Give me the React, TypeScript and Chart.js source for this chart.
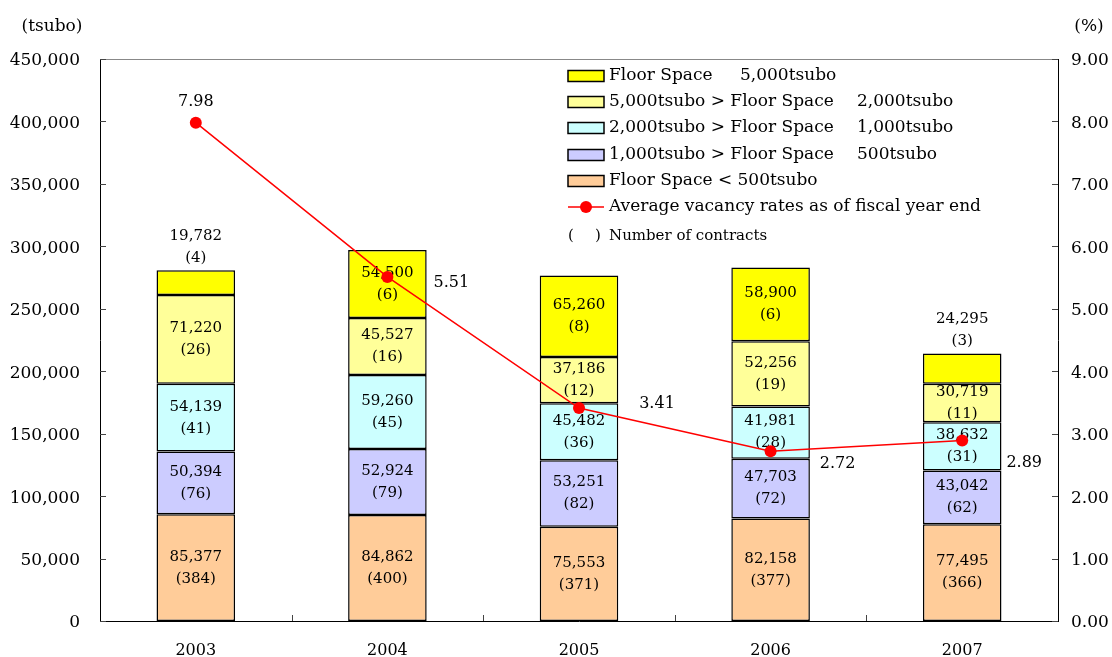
import { useEffect, useRef } from "react";
import { Chart, registerables } from "chart.js";

Chart.register(...registerables);

// Fiscal years on the category axis
const years = ["2003", "2004", "2005", "2006", "2007"];

// Contracted floor space (tsubo) by building size band, with number of contracts
const spaceUnder500 = [85377, 84862, 75553, 82158, 77495];
const contractsUnder500 = [384, 400, 371, 377, 366];
const space500to1000 = [50394, 52924, 53251, 47703, 43042];
const contracts500to1000 = [76, 79, 82, 72, 62];
const space1000to2000 = [54139, 59260, 45482, 41981, 38632];
const contracts1000to2000 = [41, 45, 36, 28, 31];
const space2000to5000 = [71220, 45527, 37186, 52256, 30719];
const contracts2000to5000 = [26, 16, 12, 19, 11];
const space5000plus = [19782, 54500, 65260, 58900, 24295];
const contracts5000plus = [4, 6, 8, 6, 3];

// Average vacancy rate (%) at fiscal year end
const vacancyRates = [7.98, 5.51, 3.41, 2.72, 2.89];

// Axis tick definitions
const leftAxisMax = 450000;
const leftAxisStep = 50000;
const rightAxisMax = 9;
const rightAxisStep = 1;

// Where each vacancy label sits relative to its point (px)
const vacancyLabelOffsets: [number, number][] = [
  [0, -21],
  [64, 6],
  [78, -4],
  [67, 13],
  [62, 22],
];

const FONT = "'DejaVu Serif', 'Liberation Serif', serif";

const bands = [
  { label: "Floor Space < 500tsubo", data: spaceUnder500, counts: contractsUnder500, color: "#FFCC99" },
  { label: "1,000tsubo > Floor Space ≧ 500tsubo", data: space500to1000, counts: contracts500to1000, color: "#CCCCFF" },
  { label: "2,000tsubo > Floor Space ≧ 1,000tsubo", data: space1000to2000, counts: contracts1000to2000, color: "#CCFFFF" },
  { label: "5,000tsubo > Floor Space ≧ 2,000tsubo", data: space2000to5000, counts: contracts2000to5000, color: "#FFFF99" },
  { label: "Floor Space ≧ 5,000tsubo", data: space5000plus, counts: contracts5000plus, color: "#FFFF00" },
];

const fmt = (n: number) => n.toLocaleString("en-US");

// Inward tick marks, frame top line, axis captions and the legend block
const decorPlugin = {
  id: "decor",
  beforeDatasetDraw(chart: any, args: any) {
    // bar value labels go under the vacancy line
    if (args.index !== bands.length) return;
    const ctx = chart.ctx;
    ctx.save();
    ctx.fillStyle = "#000";
    ctx.font = `15px ${FONT}`;
    ctx.textAlign = "center";
    ctx.textBaseline = "middle";
    bands.forEach((band, di) => {
      const meta = chart.getDatasetMeta(di);
      const isTop = di === bands.length - 1;
      meta.data.forEach((bar: any, i: number) => {
        const top = Math.min(bar.y, bar.base);
        const bottom = Math.max(bar.y, bar.base);
        const h = bottom - top;
        const l1 = fmt(band.data[i]);
        const l2 = `(${band.counts[i]})`;
        if (isTop && h < 40) {
          // thin top segment: label sits above the bar
          ctx.fillText(l1, bar.x, top - 34);
          ctx.fillText(l2, bar.x, top - 12);
        } else {
          const c = (top + bottom) / 2;
          ctx.fillText(l1, bar.x, c - 11);
          ctx.fillText(l2, bar.x, c + 11);
        }
      });
    });
    ctx.restore();
  },
  afterDatasetsDraw(chart: any) {
    const ctx = chart.ctx;
    const meta = chart.getDatasetMeta(bands.length);
    ctx.save();
    ctx.fillStyle = "#000";
    ctx.font = `16px ${FONT}`;
    ctx.textAlign = "center";
    ctx.textBaseline = "middle";
    meta.data.forEach((pt: any, i: number) => {
      const [dx, dy] = vacancyLabelOffsets[i];
      ctx.fillText(vacancyRates[i].toFixed(2), pt.x + dx, pt.y + dy);
    });
    ctx.restore();
  },
  afterDraw(chart: any) {
    const ctx = chart.ctx;
    const { left, right, top, bottom } = chart.chartArea;
    ctx.save();
    // frame top
    ctx.strokeStyle = "#888";
    ctx.lineWidth = 1;
    ctx.beginPath();
    ctx.moveTo(left, top + 0.5);
    ctx.lineTo(right, top + 0.5);
    ctx.stroke();

    // inward ticks
    ctx.strokeStyle = "#444";
    ctx.beginPath();
    chart.scales.y.ticks.forEach((t: any) => {
      const y = Math.round(chart.scales.y.getPixelForValue(t.value)) + 0.5;
      ctx.moveTo(left, y);
      ctx.lineTo(left + 6, y);
    });
    chart.scales.y1.ticks.forEach((t: any) => {
      const y = Math.round(chart.scales.y1.getPixelForValue(t.value)) + 0.5;
      ctx.moveTo(right - 6, y);
      ctx.lineTo(right, y);
    });
    const xs = chart.scales.x;
    for (let i = 1; i < years.length; i++) {
      const x = Math.round((xs.getPixelForValue(i - 1) + xs.getPixelForValue(i)) / 2) + 0.5;
      ctx.moveTo(x, bottom);
      ctx.lineTo(x, bottom - 6);
    }
    ctx.stroke();

    // axis captions
    ctx.fillStyle = "#000";
    ctx.font = `17px ${FONT}`;
    ctx.textBaseline = "middle";
    ctx.textAlign = "center";
    ctx.fillText("(tsubo)", 52, 27);
    ctx.fillText("(%)", 1089, 27);

    // legend
    const lx = 568;
    const sw = 36;
    const tx = 609;
    const rows = [76, 102, 128, 155, 181, 207, 236];
    const legendBands = [
      { color: "#FFFF00", a: "Floor Space", b: "5,000tsubo", bx: 740 },
      { color: "#FFFF99", a: "5,000tsubo > Floor Space", b: "2,000tsubo", bx: 857 },
      { color: "#CCFFFF", a: "2,000tsubo > Floor Space", b: "1,000tsubo", bx: 857 },
      { color: "#CCCCFF", a: "1,000tsubo > Floor Space", b: "500tsubo", bx: 857 },
      { color: "#FFCC99", a: "Floor Space < 500tsubo", b: "", bx: 0 },
    ];
    ctx.font = `17px ${FONT}`;
    ctx.textAlign = "left";
    legendBands.forEach((lb, i) => {
      const y = rows[i];
      ctx.fillStyle = lb.color;
      ctx.fillRect(lx, y - 5.5, sw, 11);
      ctx.strokeStyle = "#000";
      ctx.lineWidth = 1.5;
      ctx.strokeRect(lx, y - 5.5, sw, 11);
      ctx.fillStyle = "#000";
      ctx.fillText(lb.a, tx, y);
      if (lb.b) ctx.fillText(lb.b, lb.bx, y);
    });
    // vacancy line entry
    const ly = rows[5];
    ctx.strokeStyle = "#FF0000";
    ctx.lineWidth = 1.5;
    ctx.beginPath();
    ctx.moveTo(lx, ly);
    ctx.lineTo(lx + sw, ly);
    ctx.stroke();
    ctx.fillStyle = "#FF0000";
    ctx.beginPath();
    ctx.arc(lx + sw / 2, ly, 6, 0, Math.PI * 2);
    ctx.fill();
    ctx.fillStyle = "#000";
    ctx.fillText("Average vacancy rates as of fiscal year end", tx, ly);
    // contracts note
    const ny = rows[6];
    ctx.font = `15px ${FONT}`;
    ctx.fillText("(", lx, ny);
    ctx.fillText(")", lx + 27, ny);
    ctx.fillText("Number of contracts", tx, ny);
    ctx.restore();
  },
};

export default function App() {
  const canvasRef = useRef<HTMLCanvasElement>(null);

  useEffect(() => {
    document.body.style.margin = "0";
    const canvas = canvasRef.current;
    if (!canvas) return;

    const barSets = bands.map((b) => ({
      type: "bar" as const,
      label: b.label,
      data: b.data,
      backgroundColor: b.color,
      borderColor: "#000",
      borderWidth: 1.5,
      borderSkipped: false,
      barPercentage: 0.41,
      categoryPercentage: 1,
      yAxisID: "y",
      stack: "space",
      order: 1,
    }));

    const chart = new Chart(canvas, {
      type: "bar",
      data: {
        labels: years,
        datasets: [
          ...barSets,
          {
            type: "line" as const,
            label: "Average vacancy rates as of fiscal year end",
            data: vacancyRates,
            borderColor: "#FF0000",
            backgroundColor: "#FF0000",
            borderWidth: 1.5,
            pointRadius: 6,
            pointBackgroundColor: "#FF0000",
            pointBorderColor: "#FF0000",
            pointBorderWidth: 0,
            tension: 0,
            yAxisID: "y1",
            order: 0,
          },
        ] as any,
      },
      options: {
        responsive: false,
        animation: false,
        devicePixelRatio: 1,
        layout: { padding: { top: 59, left: 0, right: 0, bottom: 0 } },
        plugins: {
          legend: { display: false },
          tooltip: { enabled: false },
          title: { display: false },
        },
        scales: {
          x: {
            stacked: true,
            grid: { display: false, drawTicks: false },
            border: { display: true, color: "#000", width: 1 },
            ticks: { color: "#000", padding: 20, font: { family: FONT, size: 16 } },
            afterFit(scale: any) {
              scale.height = 36;
            },
          },
          y: {
            stacked: true,
            position: "left",
            min: 0,
            max: leftAxisMax,
            grid: { display: false, drawTicks: false },
            border: { display: true, color: "#000", width: 1 },
            ticks: {
              stepSize: leftAxisStep,
              color: "#000",
              padding: 20,
              labelOffset: 2,
              font: { family: FONT, size: 17 },
              callback: (v: any) => fmt(Number(v)),
            },
            afterFit(scale: any) {
              scale.width = 100;
            },
          },
          y1: {
            position: "right",
            min: 0,
            max: rightAxisMax,
            grid: { display: false, drawTicks: false },
            border: { display: true, color: "#000", width: 1 },
            ticks: {
              stepSize: rightAxisStep,
              color: "#000",
              padding: 13,
              labelOffset: 2,
              font: { family: FONT, size: 17 },
              callback: (v: any) => Number(v).toFixed(2),
            },
            afterFit(scale: any) {
              scale.width = 54;
            },
          },
        },
      },
      plugins: [decorPlugin],
    });

    return () => chart.destroy();
  }, []);

  return (
    <div style={{ width: 1112, height: 657, background: "#fff" }}>
      <canvas ref={canvasRef} width={1112} height={657} style={{ display: "block" }} />
    </div>
  );
}
